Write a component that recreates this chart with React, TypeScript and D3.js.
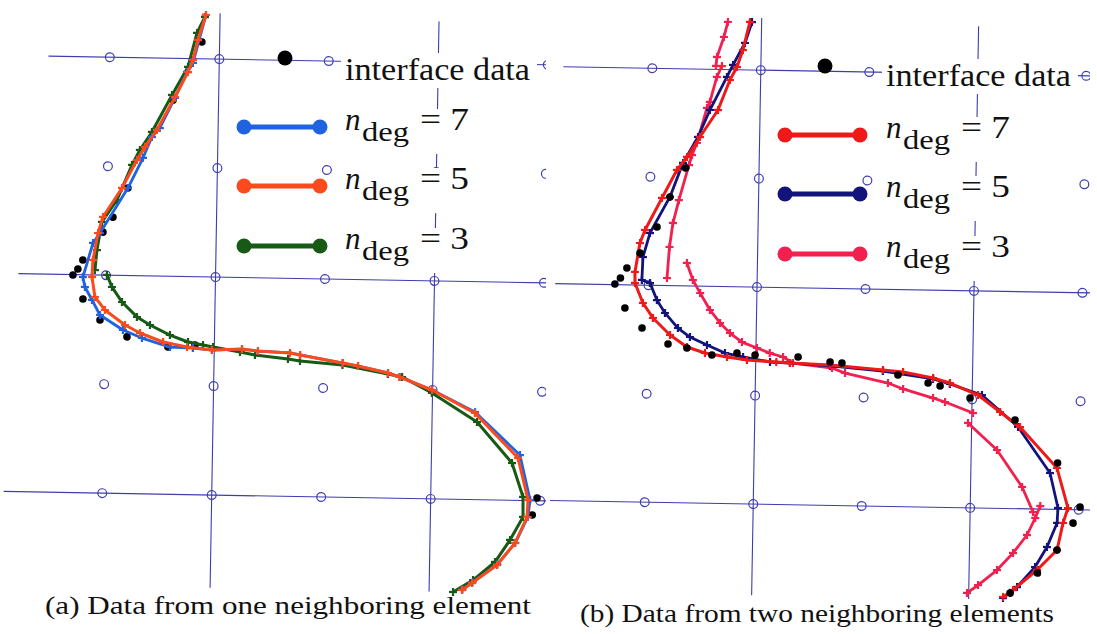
import React from 'react';
import * as d3 from 'd3';

type Pt = [number, number];

// ---------- structure ----------
const nodeIdx = [0, 1, 2, 3, 4];
const legendDegrees = ['7', '5', '3'];
const legendInterface = 'interface data';
const captionA = '(a) Data from one neighboring element';
const captionB = '(b) Data from two neighboring elements';

// ---------- panel (a) data, element-grid units ----------
const aInterface: Pt[] = [
  [0.838, -0.154], [0.583, 0.383], [0.186, 1.197], [0.054, 1.467], [-0.035, 1.606],
  [-0.214, 1.864], [-0.258, 1.948], [-0.302, 2.004], [-0.207, 2.222], [-0.048, 2.412],
  [0.201, 2.563], [0.577, 2.649], [0.823, 2.627], [3.971, 3.975], [3.93, 4.132],
];
const aDeg7: Pt[] = [
  [0.871, -0.403], [0.76, 0.039], [0.707, 0.123], [0.601, 0.363], [0.468, 0.641], [0.397, 0.725],
  [0.319, 0.917], [0.186, 1.197], [-0.062, 1.615], [-0.124, 1.707], [-0.211, 2.021], [-0.191, 2.112],
  [-0.124, 2.23], [-0.049, 2.366], [0.163, 2.5], [0.338, 2.571], [0.595, 2.649], [0.805, 2.654],
  [0.979, 2.67], [1.253, 2.656], [1.399, 2.672], [1.692, 2.684], [1.784, 2.701], [2.174, 2.768],
  [2.315, 2.793], [2.59, 2.852], [2.696, 2.887], [2.995, 3.001], [3.391, 3.197], [3.808, 3.583],
  [3.908, 3.994], [3.89, 4.15], [3.78, 4.39], [3.62, 4.59], [3.395, 4.76], [3.305, 4.826],
];
const aDeg5: Pt[] = [
  [0.871, -0.403], [0.802, -0.172], [0.76, 0.012], [0.716, 0.123], [0.601, 0.354], [0.442, 0.66],
  [0.335, 0.817], [0.264, 0.939], [0.132, 1.198], [-0.037, 1.467], [-0.08, 1.615], [-0.122, 1.863],
  [-0.128, 2.019], [-0.098, 2.202], [-0.005, 2.319], [0.181, 2.454], [0.319, 2.525], [0.531, 2.604],
  [0.751, 2.646], [0.979, 2.67], [1.253, 2.656], [1.399, 2.672], [1.692, 2.684], [1.784, 2.701],
  [2.174, 2.768], [2.315, 2.793], [2.59, 2.852], [2.696, 2.887], [2.995, 3.001], [3.391, 3.206],
  [3.791, 3.611], [3.889, 3.994], [3.883, 4.151], [3.777, 4.392], [3.616, 4.596], [3.391, 4.765],
  [3.3, 4.831],
];
const aDeg3Upper: Pt[] = [
  [0.862, -0.384], [0.792, -0.237], [0.715, 0.077], [0.574, 0.337], [0.396, 0.679], [0.289, 0.846],
  [0.219, 0.985], [0.088, 1.308], [-0.046, 1.513], [-0.087, 1.771], [-0.102, 1.954],
];
const aDeg3Lower: Pt[] = [
  [0.008, 1.998], [0.056, 2.107], [0.15, 2.244], [0.289, 2.378], [0.409, 2.45], [0.593, 2.539],
  [0.759, 2.6], [0.896, 2.625], [0.988, 2.642], [1.236, 2.683], [1.373, 2.708], [1.675, 2.739],
  [1.785, 2.756], [2.174, 2.786], [2.59, 2.861], [2.719, 2.886], [2.995, 3.028], [3.411, 3.287],
  [3.737, 3.658], [3.843, 3.968], [3.846, 4.151], [3.731, 4.364], [3.597, 4.569], [3.4, 4.738],
  [3.219, 4.851],
];

// ---------- panel (b) data ----------
const bInterface: Pt[] = [
  [0.323, 0.914], [0.183, 1.183], [0.069, 1.462], [-0.084, 1.704], [-0.202, 1.845], [-0.26, 1.938],
  [-0.31, 1.994], [-0.214, 2.214], [-0.053, 2.395], [0.189, 2.539], [0.364, 2.572], [0.595, 2.633],
  [0.826, 2.611], [0.993, 2.626], [1.39, 2.638], [1.685, 2.678], [1.795, 2.686], [2.313, 2.787],
  [2.592, 2.856], [2.703, 2.882], [2.981, 2.988], [3.399, 3.183], [3.798, 3.572], [4.012, 3.975],
  [3.95, 4.124], [3.807, 4.374], [3.63, 4.59], [3.381, 4.779],
];
const bDeg7: Pt[] = [
  [0.892, -0.442], [0.832, -0.182], [0.78, -0.025], [0.717, 0.096], [0.612, 0.374], [0.45, 0.626],
  [0.334, 0.812], [0.243, 0.934], [0.11, 1.194], [-0.041, 1.492], [-0.086, 1.613], [-0.127, 1.88],
  [-0.125, 1.982], [-0.049, 2.165], [0.046, 2.301], [0.206, 2.455], [0.364, 2.563], [0.531, 2.616],
  [0.735, 2.649], [0.919, 2.674], [1.19, 2.687], [1.316, 2.694], [1.685, 2.706], [2.174, 2.744],
  [2.359, 2.759], [2.637, 2.809], [2.793, 2.853], [3.054, 2.959], [3.26, 3.112], [3.446, 3.247],
  [3.793, 3.618], [3.901, 3.986], [3.858, 4.124], [3.807, 4.374], [3.626, 4.562], [3.408, 4.75],
  [3.317, 4.816],
];
const bDeg5: Pt[] = [
  [0.911, -0.442], [0.85, -0.248], [0.743, -0.043], [0.689, 0.068], [0.538, 0.375], [0.432, 0.626],
  [0.298, 0.868], [0.183, 1.183], [0.005, 1.519], [-0.056, 1.741], [-0.062, 1.953], [0.013, 1.98],
  [0.08, 2.136], [0.156, 2.253], [0.278, 2.39], [0.39, 2.471], [0.548, 2.542], [0.715, 2.613],
  [0.882, 2.646], [1.132, 2.688], [1.316, 2.694], [1.685, 2.715], [2.174, 2.753], [2.637, 2.818],
  [2.793, 2.862], [3.09, 2.959], [3.428, 3.247], [3.73, 3.666], [3.809, 3.987], [3.803, 4.125],
  [3.714, 4.348], [3.607, 4.535], [3.444, 4.722], [3.317, 4.826],
];
const bDeg3Seg1: Pt[] = [[0.689, -0.439], [0.655, -0.3], [0.594, -0.114], [0.586, -0.031]];
const bDeg3Seg2: Pt[] = [
  [0.641, -0.032], [0.596, 0.07], [0.536, 0.301], [0.51, 0.357], [0.423, 0.681], [0.38, 0.793],
  [0.353, 0.886], [0.266, 1.211], [0.215, 1.423], [0.187, 1.644], [0.169, 1.931],
];
const bDeg3Seg3: Pt[] = [
  [0.35, 1.789], [0.408, 1.945], [0.477, 2.064], [0.57, 2.218], [0.665, 2.336], [0.758, 2.428],
  [0.87, 2.509], [1.009, 2.561], [1.128, 2.606], [1.251, 2.64], [1.344, 2.694], [1.704, 2.734],
  [1.825, 2.778], [2.222, 2.863], [2.362, 2.915], [2.64, 2.994], [2.751, 3.029], [3.011, 3.125],
];
const bDeg3Seg4: Pt[] = [[2.966, 3.218], [3.238, 3.463], [3.475, 3.799], [3.58, 4.029]];
const bDeg3Seg5: Pt[] = [
  [3.645, 3.972], [3.601, 4.083], [3.528, 4.241], [3.402, 4.409], [3.257, 4.569], [3.085, 4.71],
  [2.984, 4.785],
];

const GRID = '#3d3dae';
const FONT = '"Liberation Serif", "Times New Roman", serif';

interface Series { segments: Pt[][]; color: string; width: number }
interface PanelCfg {
  id: string;
  xRange: [number, number];
  yRange: [number, number];
  clip: [number, number, number, number];
  hLines: { y: number; x0: number; x1: number }[];
  vLines: { x: number; y0: number; y1: number }[];
  series: Series[];
  dots: Pt[];
  dotsOnTop: boolean;
  legendColors: string[];
  lg: { dot: [number, number]; line: [number, number]; rows: number[]; textX: number; ifBase: number };
  caption: { text: string; x: number; y: number; len: number };
}

const panels: PanelCfg[] = [
  {
    id: 'a',
    xRange: [106, 544],
    yRange: [61, 497],
    clip: [0, 0, 546, 600],
    hLines: [
      { y: 0, x0: -0.56, x1: 4.2 },
      { y: 2, x0: -0.8, x1: 4.2 },
      { y: 4, x0: -0.9, x1: 4.2 },
    ],
    vLines: [
      { x: 1, y0: -0.42, y1: 4.85 },
      { x: 3, y0: -0.38, y1: 4.85 },
    ],
    series: [
      { segments: [aDeg3Upper, aDeg3Lower], color: '#165a16', width: 3 },
      { segments: [aDeg7], color: '#1f63e0', width: 2.8 },
      { segments: [aDeg5], color: '#fb4b1e', width: 3 },
    ],
    dots: aInterface,
    dotsOnTop: false,
    legendColors: ['#1f63e0', '#fb4b1e', '#165a16'],
    lg: { dot: [285, 58], line: [244, 320], rows: [127, 186, 246], textX: 345, ifBase: 80 },
    caption: { text: captionA, x: 45, y: 614, len: 486 },
  },
  {
    id: 'b',
    xRange: [648.5, 1082.5],
    yRange: [72, 506],
    clip: [550, 0, 540, 602],
    hLines: [
      { y: 0, x0: -0.82, x1: 4.2 },
      { y: 2, x0: -0.86, x1: 4.2 },
      { y: 4, x0: -0.89, x1: 4.2 },
    ],
    vLines: [
      { x: 1, y0: -0.48, y1: 4.84 },
      { x: 3, y0: -0.44, y1: 4.84 },
    ],
    series: [
      { segments: [bDeg3Seg1, bDeg3Seg2, bDeg3Seg3, bDeg3Seg4, bDeg3Seg5], color: '#f2204e', width: 2.8 },
      { segments: [bDeg5], color: '#13137c', width: 2.8 },
      { segments: [bDeg7], color: '#ee1a1a', width: 3 },
    ],
    dots: bInterface,
    dotsOnTop: true,
    legendColors: ['#ee1a1a', '#13137c', '#f2204e'],
    lg: { dot: [825, 66], line: [785, 860], rows: [135, 194, 254], textX: 886, ifBase: 86 },
    caption: { text: captionB, x: 580, y: 622, len: 474 },
  },
];

function cross(x: number, y: number, s: number) {
  return `M${x - s},${y}H${x + s}M${x},${y - s}V${y + s}`;
}

function Panel({ cfg }: { cfg: PanelCfg }) {
  const sx = d3.scaleLinear().domain([0, 4]).range(cfg.xRange);
  const sy = d3.scaleLinear().domain([0, 4]).range(cfg.yRange);
  const line = d3.line<Pt>().x((d) => sx(d[0])).y((d) => sy(d[1]));
  const [cx, cy, cw, ch] = cfg.clip;
  const dotEls = cfg.dots.map((d, i) => (
    <circle key={'d' + i} cx={sx(d[0])} cy={sy(d[1])} r={3.8} fill="#000" />
  ));
  const lg = cfg.lg;
  return (
    <g>
      <defs>
        <clipPath id={'clip-' + cfg.id}>
          <rect x={cx} y={cy} width={cw} height={ch} />
        </clipPath>
      </defs>
      <g clipPath={`url(#clip-${cfg.id})`}>
        <g transform={`rotate(1, ${sx(2)}, ${sy(2)})`}>
          {cfg.hLines.map((l, i) => (
            <line key={'h' + i} x1={sx(l.x0)} x2={sx(l.x1)} y1={sy(l.y)} y2={sy(l.y)} stroke={GRID} strokeWidth={1.1} />
          ))}
          {cfg.vLines.map((l, i) => (
            <line key={'v' + i} x1={sx(l.x)} x2={sx(l.x)} y1={sy(l.y0)} y2={sy(l.y1)} stroke={GRID} strokeWidth={1.1} />
          ))}
          {nodeIdx.map((i) =>
            nodeIdx.map((j) => (
              <circle key={`n${i}-${j}`} cx={sx(i)} cy={sy(j)} r={4.4} fill="none" stroke={GRID} strokeWidth={1.2} />
            ))
          )}
          {!cfg.dotsOnTop && dotEls}
          {cfg.series.map((s, si) => (
            <g key={'s' + si}>
              {s.segments.map((seg, k) => (
                <g key={k}>
                  <path d={line(seg) || ''} fill="none" stroke={s.color} strokeWidth={s.width} strokeLinejoin="round" strokeLinecap="round" />
                  <path d={seg.map((p) => cross(sx(p[0]), sy(p[1]), 4)).join('')} fill="none" stroke={s.color} strokeWidth={2.2} />
                </g>
              ))}
            </g>
          ))}
          {cfg.dotsOnTop && dotEls}
        </g>
      </g>
      {/* legend */}
      <rect x={lg.textX - 4} y={lg.ifBase - 27} width={196} height={35} fill="#fff" />
      {lg.rows.map((ry, i) => (
        <rect key={'lr' + i} x={lg.textX - 3} y={ry - 18} width={136} height={45} fill="#fff" />
      ))}
      <circle cx={lg.dot[0]} cy={lg.dot[1]} r={7.5} fill="#000" />
      <text x={lg.textX} y={lg.ifBase} fontFamily={FONT} fontSize={31} textLength={185} lengthAdjust="spacingAndGlyphs" fill="#111">
        {legendInterface}
      </text>
      {lg.rows.map((ry, i) => (
        <g key={'lg' + i}>
          <line x1={lg.line[0]} x2={lg.line[1]} y1={ry} y2={ry} stroke={cfg.legendColors[i]} strokeWidth={5} />
          <circle cx={lg.line[0]} cy={ry} r={7.5} fill={cfg.legendColors[i]} />
          <circle cx={lg.line[1]} cy={ry} r={7.5} fill={cfg.legendColors[i]} />
          <text x={lg.textX} y={ry + 3} fontFamily={FONT} fontStyle="italic" fontSize={31} fill="#111">n</text>
          <text x={lg.textX + 17} y={ry + 14} fontFamily={FONT} fontSize={27} textLength={47} lengthAdjust="spacingAndGlyphs" fill="#111">deg</text>
          <text x={lg.textX + 75} y={ry + 3} fontFamily={FONT} fontSize={31} textLength={49} lengthAdjust="spacingAndGlyphs" fill="#111">
            {'= ' + legendDegrees[i]}
          </text>
        </g>
      ))}
      <text x={cfg.caption.x} y={cfg.caption.y} fontFamily={FONT} fontSize={26} textLength={cfg.caption.len} lengthAdjust="spacingAndGlyphs" fill="#111">
        {cfg.caption.text}
      </text>
    </g>
  );
}

export default function App() {
  return (
    <svg
      width={1097}
      height={634}
      viewBox="0 0 1097 634"
      style={{ position: 'absolute', left: 0, top: 0, background: '#fff' }}
    >
      <rect x={0} y={0} width={1097} height={634} fill="#fff" />
      {panels.map((p) => (
        <Panel key={p.id} cfg={p} />
      ))}
    </svg>
  );
}
